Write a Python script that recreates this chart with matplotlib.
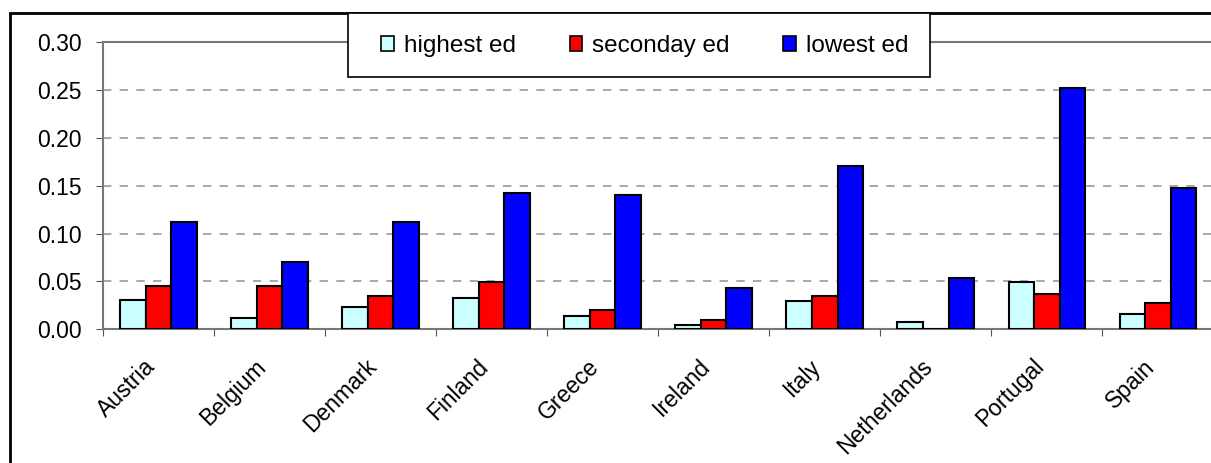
import numpy as np
import matplotlib.pyplot as plt
import matplotlib.transforms as mtransforms
from matplotlib.patches import Rectangle, Patch

plt.rcParams['font.family'] = ['Liberation Sans', 'DejaVu Sans']

countries = ['Austria', 'Belgium', 'Denmark', 'Finland', 'Greece', 'Ireland',
             'Italy', 'Netherlands', 'Portugal', 'Spain']
highest_ed = [0.031, 0.012, 0.023, 0.033, 0.014, 0.004, 0.029, 0.008, 0.049, 0.016]
seconday_ed = [0.045, 0.045, 0.035, 0.049, 0.020, 0.010, 0.035, 0.0, 0.037, 0.027]
lowest_ed = [0.112, 0.070, 0.112, 0.142, 0.140, 0.043, 0.171, 0.054, 0.252, 0.148]

series = [('highest ed', highest_ed, '#CCFFFF'),
          ('seconday ed', seconday_ed, '#FF0000'),
          ('lowest ed', lowest_ed, '#0000FF')]

fig = plt.figure(figsize=(12.11, 4.63), dpi=100)
ax = fig.add_axes([0.085, 0.289, 0.917, 0.620])

x = np.arange(len(countries))
w = 0.23
for i, (name, vals, col) in enumerate(series):
    ax.bar(x + (i - 1) * w, vals, w, color=col, edgecolor='black',
           linewidth=1.5, label=name, zorder=3)

ax.set_xlim(-0.5, len(countries) - 0.5)
ax.set_ylim(0, 0.30)
yt = np.arange(0, 0.31, 0.05)
ax.set_yticks(yt)
ax.set_yticklabels(['%.2f' % v for v in yt], fontsize=16.5)
ax.yaxis.grid(True, linestyle=(0, (5, 5)), color='#999999', linewidth=1.2, zorder=0)

# category boundaries as ticks, names in between
ax.set_xticks(np.arange(len(countries) + 1) - 0.5)
ax.set_xticklabels([])
ax.set_xticks(x, minor=True)
ax.set_xticklabels(countries, minor=True, rotation=45, ha='right',
                   rotation_mode='anchor', fontsize=16.5)
ax.tick_params(axis='x', which='minor', length=0, pad=18.5)
ax.tick_params(axis='x', which='major', length=5, color='#555555')
ax.tick_params(axis='y', length=5, pad=10.5, color='#555555')
shift = mtransforms.ScaledTranslation(-15 / 100, 0, fig.dpi_scale_trans)
for lab in ax.get_xticklabels(minor=True):
    lab.set_transform(lab.get_transform() + shift)

for s in ['left', 'bottom', 'top']:
    ax.spines[s].set_color('#777777')
    ax.spines[s].set_linewidth(1.5)
ax.spines['right'].set_visible(False)

# outer chart border
fig.patches.append(Rectangle((10 / 1211, -0.01), 1.0, 0.982, transform=fig.transFigure,
                             fill=False, edgecolor='black', linewidth=2))

# legend box
fig.patches.append(Rectangle((348 / 1211, 1 - 77 / 463), 582 / 1211, 64 / 463,
                             transform=fig.transFigure, facecolor='white',
                             edgecolor='black', linewidth=1.2, zorder=5))
handles = [Patch(facecolor=c, edgecolor='black', linewidth=1.2) for _, _, c in series]
leg = fig.legend(handles, [n for n, _, _ in series], ncol=3, frameon=False,
                 loc='center', bbox_to_anchor=(0.5326, 1 - 46 / 463), fontsize=17.5,
                 handlelength=0.53, handleheight=0.53, handletextpad=0.41,
                 columnspacing=2.2)
leg.set_zorder(6)

fig.savefig('out.png', dpi=100)
